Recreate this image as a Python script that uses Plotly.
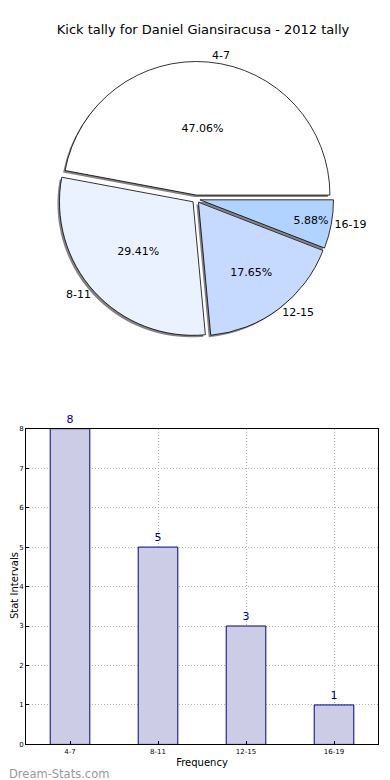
import plotly.graph_objects as go

categories = ["4-7", "8-11", "12-15", "16-19"]
counts = [8, 5, 3, 1]
pie_colors = ["#FFFFFF", "#EBF2FF", "#C6D9FF", "#B0D4FF"]
title_text = "Kick tally for Daniel Giansiracusa - 2012 tally"

W, H = 390, 780
FONT = "DejaVu Sans"

def px_dom(x0, x1, y0, y1):
    return dict(x=[x0 / W, x1 / W], y=[1 - y1 / H, 1 - y0 / H])

cx, cy, half = 188, 189, 139
pull = [0.03] * len(categories)
# first slice starts at 3 o'clock and runs counterclockwise (matplotlib style)
ROT = 90 - 360 * counts[0] / sum(counts)

fig = go.Figure()

common_pie = dict(labels=categories, values=counts, sort=False, direction="counterclockwise",
                  rotation=ROT, pull=pull, showlegend=False)

# shadow pie
fig.add_trace(go.Pie(
    **common_pie, textinfo="none", hoverinfo="skip",
    marker=dict(colors=["rgba(90,90,90,0.75)"] * 4, line=dict(width=0)),
    domain=px_dom(cx - half - 2, cx + half - 2, cy - half + 2, cy + half + 2),
))
# main pie with percentages
fig.add_trace(go.Pie(
    **common_pie, textposition="inside", texttemplate="%{percent:.2%}",
    insidetextorientation="horizontal",
    textfont=dict(family=FONT, size=11, color="black"),
    marker=dict(colors=pie_colors, line=dict(color="black", width=0.8)),
    domain=px_dom(cx - half, cx + half, cy - half, cy + half),
))
# outside category labels
fig.add_trace(go.Pie(
    **common_pie, textposition="outside", texttemplate="%{label}", hoverinfo="skip",
    textfont=dict(family=FONT, size=11, color="black"),
    marker=dict(colors=["rgba(0,0,0,0)"] * 4, line=dict(width=0)),
    domain=px_dom(cx - half, cx + half, cy - half, cy + half),
))

# bars
fig.add_trace(go.Bar(
    x=categories, y=counts, width=0.45, text=[str(c) for c in counts],
    textposition="outside", cliponaxis=False,
    textfont=dict(family=FONT, size=11, color="#000080"),
    marker=dict(color="#CCCCE6", line=dict(color="#000080", width=1)),
    xaxis="x", yaxis="y", showlegend=False,
))

axis_common = dict(
    showline=True, linecolor="black", linewidth=1, mirror=True,
    showgrid=True, gridcolor="#B0B0B0", griddash="1px,2px", gridwidth=1,
    zeroline=False, ticks="inside", ticklen=3, tickcolor="black",
    tickfont=dict(family=FONT, size=7, color="black"),
)

fig.update_layout(
    width=W, height=H, margin=dict(l=0, r=0, t=0, b=0),
    paper_bgcolor="white", plot_bgcolor="white",
    font=dict(family=FONT, color="black"),
    title=dict(text=title_text, x=0.5, xanchor="center", y=1 - 21 / H, yanchor="middle",
               font=dict(family=FONT, size=13, color="black")),
    xaxis=dict(domain=[18 / W, 370 / W], anchor="y", range=[-0.5, 3.5],
               title=dict(text="Frequency", font=dict(family=FONT, size=10), standoff=4),
               **axis_common),
    yaxis=dict(domain=[1 - 740 / H, 1 - 421 / H], anchor="x", range=[0, 8], dtick=1,
               **axis_common),
    annotations=[
        dict(text="Stat Intervals", x=6 / W, y=1 - 580 / H, xref="paper", yref="paper",
             xanchor="center", yanchor="middle", textangle=-90, showarrow=False,
             font=dict(family=FONT, size=10, color="black")),
        dict(text="Dream-Stats.com", x=-1 / W, y=1 - 770 / H, xref="paper", yref="paper",
             xanchor="left", yanchor="middle", showarrow=False,
             font=dict(family=FONT, size=11.5, color="#999999")),
    ],
)

fig.write_html("out.html")
